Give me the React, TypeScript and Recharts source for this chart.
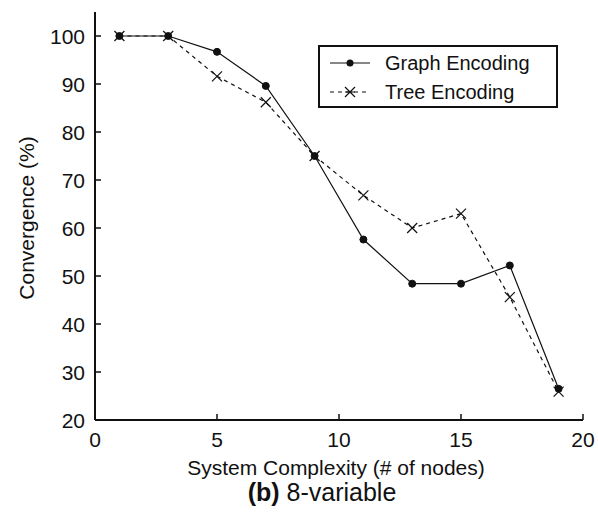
import React from 'react';
import { LineChart, Line, XAxis, YAxis, Legend, Label } from 'recharts';

// --- data ---
const nodeCounts = [1, 3, 5, 7, 9, 11, 13, 15, 17, 19];
const graphEncoding = [100, 100, 96.7, 89.6, 75, 57.6, 48.4, 48.4, 52.2, 26.5];
const treeEncoding = [100, 100, 91.6, 86.2, 75, 66.8, 60, 63, 45.6, 25.9];
const xTicks = [0, 5, 10, 15, 20];
const yTicks = [20, 30, 40, 50, 60, 70, 80, 90, 100];

const data = nodeCounts.map((n, i) => ({
  nodes: n,
  graph: graphEncoding[i],
  tree: treeEncoding[i],
}));

const FONT = '"Liberation Sans", Arial, sans-serif';
const INK = '#111';
const TICK_LEN = 6;

// matlab style inward ticks
const BottomTick = (props: any) => {
  const { x, y, payload } = props;
  return (
    <g>
      <line x1={x} y1={y} x2={x} y2={y - TICK_LEN} stroke={INK} strokeWidth={1.5} />
      <text x={x} y={y + 27} textAnchor="middle" fontSize={21} fontFamily={FONT} fill={INK}>
        {payload.value}
      </text>
    </g>
  );
};

const TopTick = (props: any) => {
  const { x, y } = props;
  return <line x1={x} y1={y} x2={x} y2={y + TICK_LEN} stroke={INK} strokeWidth={1.5} />;
};

const LeftTick = (props: any) => {
  const { x, y, payload } = props;
  return (
    <g>
      <line x1={x} y1={y} x2={x + TICK_LEN} y2={y} stroke={INK} strokeWidth={1.5} />
      <text x={x - 10} y={y} dy="0.36em" textAnchor="end" fontSize={21} fontFamily={FONT} fill={INK}>
        {payload.value}
      </text>
    </g>
  );
};

const RightTick = (props: any) => {
  const { x, y } = props;
  return <line x1={x} y1={y} x2={x - TICK_LEN} y2={y} stroke={INK} strokeWidth={1.5} />;
};

const GraphDot = (props: any) => {
  const { cx, cy, index } = props;
  if (cx == null || cy == null) return <g key={`g-${index}`} />;
  return <circle key={`g-${index}`} cx={cx} cy={cy} r={3.5} fill={INK} stroke={INK} />;
};

const TreeDot = (props: any) => {
  const { cx, cy, index } = props;
  if (cx == null || cy == null) return <g key={`t-${index}`} />;
  const s = 5;
  return (
    <path
      key={`t-${index}`}
      d={`M${cx - s},${cy - s}L${cx + s},${cy + s}M${cx - s},${cy + s}L${cx + s},${cy - s}`}
      stroke={INK}
      strokeWidth={1.2}
      fill="none"
    />
  );
};

const LegendBox = () => (
  <svg width={240} height={63} style={{ display: 'block' }}>
    <rect x={1} y={1} width={238} height={61} fill="#fff" stroke={INK} strokeWidth={2} />
    <line x1={12} y1={18} x2={52} y2={18} stroke={INK} strokeWidth={1.2} />
    <circle cx={32} cy={18} r={3.5} fill={INK} />
    <text x={67} y={25} fontSize={20} fontFamily={FONT} fill={INK}>Graph Encoding</text>
    <line x1={12} y1={47} x2={52} y2={47} stroke={INK} strokeWidth={1.2} strokeDasharray="4 4" />
    <path d="M27,42L37,52M27,52L37,42M27,47L37,47" stroke={INK} strokeWidth={1.2} />
    <text x={67} y={54} fontSize={20} fontFamily={FONT} fill={INK}>Tree Encoding</text>
  </svg>
);

const XLabel = () => (
  <g>
    <text x={336} y={475} textAnchor="middle" fontSize={21} fontFamily={FONT} fill={INK}>
      System Complexity (# of nodes)
    </text>
    <text x={322} y={501} textAnchor="middle" fontSize={25} fontFamily={FONT} fill={INK}>
      <tspan fontWeight="bold">(b)</tspan> 8-variable
    </text>
  </g>
);

const YLabel = () => (
  <text
    x={26}
    y={218}
    transform="rotate(-90, 26, 218)"
    textAnchor="middle"
    dy="0.36em"
    fontSize={21}
    fontFamily={FONT}
    fill={INK}
  >
    Convergence (%)
  </text>
);

export default function App() {
  return (
    <div style={{ position: 'absolute', left: 0, top: 0, width: 598, height: 515, background: '#fff' }}>
      <LineChart width={598} height={515} data={data} margin={{ top: 12, right: 15, left: 0, bottom: 0 }}>
        <XAxis
          xAxisId="bottom"
          type="number"
          dataKey="nodes"
          domain={[0, 20]}
          ticks={xTicks}
          height={95}
          tickSize={0}
          tickMargin={0}
          tickLine={false}
          tick={BottomTick}
          axisLine={{ stroke: INK, strokeWidth: 2 }}
          allowDataOverflow
        >
          <Label content={XLabel} />
        </XAxis>
        <XAxis
          xAxisId="top"
          orientation="top"
          type="number"
          dataKey="nodes"
          domain={[0, 20]}
          ticks={xTicks}
          height={0}
          tickSize={0}
          tickMargin={0}
          tickLine={false}
          tick={TopTick}
          axisLine={{ stroke: INK, strokeWidth: 2 }}
          allowDataOverflow
        />
        <YAxis
          yAxisId="left"
          type="number"
          domain={[20, 105]}
          ticks={yTicks}
          width={95}
          tickSize={0}
          tickMargin={0}
          tickLine={false}
          tick={LeftTick}
          axisLine={{ stroke: INK, strokeWidth: 2 }}
          allowDataOverflow
        >
          <Label content={YLabel} />
        </YAxis>
        <YAxis
          yAxisId="right"
          orientation="right"
          type="number"
          domain={[20, 105]}
          ticks={yTicks}
          width={0}
          tickSize={0}
          tickMargin={0}
          tickLine={false}
          tick={RightTick}
          axisLine={{ stroke: INK, strokeWidth: 2 }}
          allowDataOverflow
        />
        <Legend
          layout="horizontal"
          verticalAlign="middle"
          align="center"
          content={LegendBox}
          wrapperStyle={{ position: 'absolute', left: 318, top: 45, width: 240, height: 63 }}
        />
        <Line
          xAxisId="bottom"
          yAxisId="left"
          type="linear"
          dataKey="graph"
          name="Graph Encoding"
          stroke={INK}
          strokeWidth={1.2}
          dot={GraphDot}
          activeDot={false}
          isAnimationActive={false}
        />
        <Line
          xAxisId="bottom"
          yAxisId="left"
          type="linear"
          dataKey="tree"
          name="Tree Encoding"
          stroke={INK}
          strokeWidth={1.2}
          strokeDasharray="4 4"
          dot={TreeDot}
          activeDot={false}
          isAnimationActive={false}
        />
      </LineChart>
    </div>
  );
}
